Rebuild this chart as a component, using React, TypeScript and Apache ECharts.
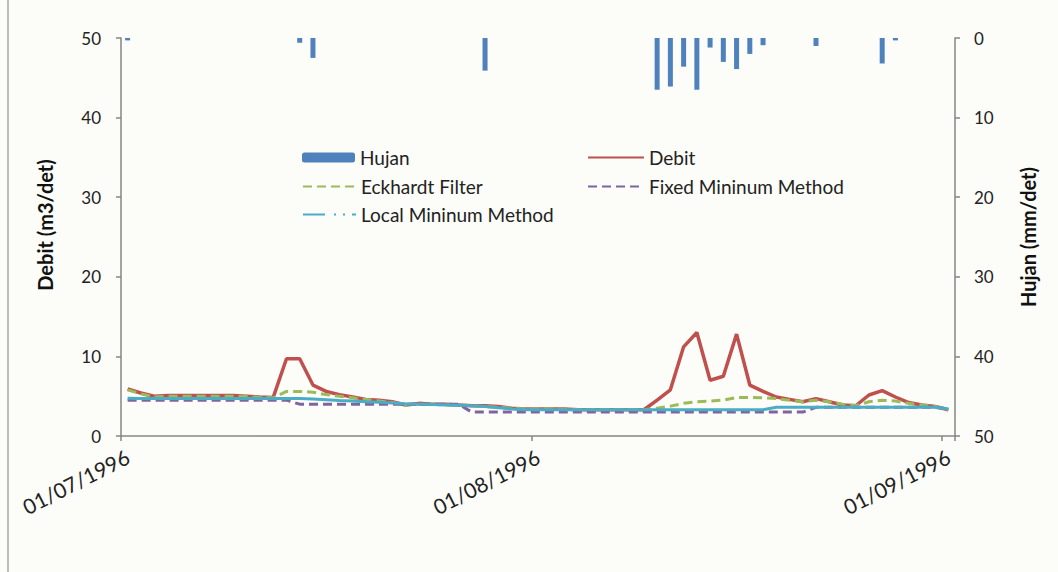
import React, { useEffect, useRef } from "react";
import * as echarts from "echarts";

// Categories: daily dates from 01/07/1996 to 01/09/1996
const dates: string[] = (() => {
  const out: string[] = [];
  const months = [
    { m: "07", days: 31 },
    { m: "08", days: 31 },
    { m: "09", days: 1 },
  ];
  for (const mo of months) {
    for (let d = 1; d <= mo.days; d++) {
      out.push(`${d < 10 ? "0" + d : d}/${mo.m}/1996`);
    }
  }
  return out;
})();

const labelIndexes = [0, 31, 62];

const hujan = [
  0.3, 0, 0, 0, 0, 0, 0, 0, 0, 0, 0, 0, 0, 0.6, 2.5, 0, 0, 0, 0, 0, 0, 0, 0, 0, 0, 0, 0, 4.1, 0, 0, 0,
  0, 0, 0, 0, 0, 0, 0, 0, 0, 6.5, 6.1, 3.6, 6.5, 1.2, 3.0, 3.9, 2.0, 0.9, 0, 0, 0, 1.0, 0, 0, 0, 0, 3.2, 0.3, 0, 0, 0,
  0,
];

const debit = [
  5.9, 5.4, 5.0, 5.1, 5.1, 5.1, 5.1, 5.1, 5.1, 5.0, 4.9, 4.85, 9.7, 9.7, 6.4, 5.6, 5.2, 4.9, 4.6, 4.5, 4.3, 3.9, 4.1, 4.0, 4.0, 3.9, 3.8, 3.8, 3.7, 3.5, 3.4,
  3.4, 3.4, 3.4, 3.3, 3.3, 3.3, 3.3, 3.3, 3.3, 4.5, 5.8, 11.2, 13.0, 7.0, 7.5, 12.8, 6.4, 5.6, 4.9, 4.6, 4.3, 4.7, 4.3, 3.9, 3.8, 5.15, 5.7, 4.9, 4.2, 3.9, 3.7,
  3.3,
];

const eckhardt = [
  5.8, 5.3, 4.9, 5.0, 5.0, 5.0, 5.0, 5.0, 5.0, 4.95, 4.85, 4.8, 5.6, 5.6, 5.5, 5.2, 5.0, 4.8, 4.6, 4.4, 4.2, 3.9, 4.0, 4.0, 3.9, 3.9, 3.8, 3.7, 3.6, 3.5, 3.4,
  3.4, 3.4, 3.35, 3.3, 3.3, 3.3, 3.3, 3.3, 3.3, 3.5, 3.75, 4.1, 4.3, 4.4, 4.5, 4.85, 4.85, 4.8, 4.7, 4.5, 4.3, 4.5, 4.3, 4.0, 3.8, 4.3, 4.5, 4.4, 4.1, 3.9, 3.7,
  3.3,
];

const fixedMin = [
  4.5, 4.5, 4.5, 4.5, 4.5, 4.5, 4.5, 4.5, 4.5, 4.5, 4.5, 4.5, 4.5, 4.0, 4.0, 4.0, 4.0, 4.0, 4.0, 4.0, 4.0, 4.0, 4.0, 4.0, 4.0, 4.0, 3.0, 3.0, 3.0, 3.0, 3.0,
  3.0, 3.0, 3.0, 3.0, 3.0, 3.0, 3.0, 3.0, 3.0, 3.0, 3.0, 3.0, 3.0, 3.0, 3.0, 3.0, 3.0, 3.0, 3.0, 3.0, 3.0, 3.6, 3.6, 3.6, 3.6, 3.6, 3.6, 3.6, 3.6, 3.6, 3.6,
  3.4,
];

const localMin = [
  4.75, 4.7, 4.7, 4.7, 4.7, 4.7, 4.7, 4.7, 4.7, 4.7, 4.7, 4.7, 4.7, 4.7, 4.65, 4.55, 4.45, 4.4, 4.3, 4.25, 4.15, 4.05, 4.0, 3.95, 3.9, 3.85, 3.8, 3.7, 3.55, 3.4, 3.3,
  3.3, 3.3, 3.3, 3.3, 3.3, 3.3, 3.3, 3.3, 3.3, 3.3, 3.3, 3.3, 3.3, 3.3, 3.3, 3.3, 3.3, 3.3, 3.6, 3.6, 3.6, 3.6, 3.6, 3.6, 3.6, 3.6, 3.6, 3.6, 3.6, 3.6, 3.6,
  3.4,
];

const FONT = "Lato";
const AXIS_GRAY = "#868686";
const TEXT = "#222222";

export default function App() {
  const ref = useRef<HTMLDivElement>(null);

  useEffect(() => {
    if (!ref.current) return;
    const chart = echarts.init(ref.current, undefined, { renderer: "svg" });
    const showIdx = (i: number) => labelIndexes.indexOf(i) >= 0;
    const legendText = { fontFamily: FONT, fontSize: 19, color: TEXT };
    const hideSym = { opacity: 0, color: "rgba(0,0,0,0)", borderWidth: 0 };
    const legendBase = { padding: 0, itemGap: 0, textStyle: legendText };
    const option: any = {
      animation: false,
      backgroundColor: "#fcfcf8",
      textStyle: { fontFamily: FONT },
      grid: { left: 121, right: 103, top: 38, bottom: 136, containLabel: false },
      legend: [
        { ...legendBase, left: 302, top: 148, itemWidth: 53, itemHeight: 10, data: ["Hujan"] },
        { ...legendBase, left: 587, top: 148, itemWidth: 56, itemHeight: 14, data: [{ name: "Debit", itemStyle: hideSym }] },
        { ...legendBase, left: 302, top: 177, itemWidth: 53, itemHeight: 14, data: [{ name: "Eckhardt Filter", itemStyle: hideSym }] },
        { ...legendBase, left: 587, top: 177, itemWidth: 56, itemHeight: 14, data: [{ name: "Fixed Mininum Method", itemStyle: hideSym }] },
        {
          ...legendBase,
          left: 302,
          top: 205,
          itemWidth: 53,
          itemHeight: 14,
          data: [{ name: "Local Mininum Method", itemStyle: hideSym, lineStyle: { type: [22, 9, 2, 7, 2, 7] } }],
        },
      ],
      xAxis: {
        type: "category",
        data: dates,
        boundaryGap: true,
        axisLine: { show: true, lineStyle: { color: AXIS_GRAY, width: 1.5 } },
        axisTick: { show: true, interval: (i: number) => showIdx(i), length: 5, lineStyle: { color: AXIS_GRAY, width: 1.5 } },
        axisLabel: {
          interval: (i: number) => showIdx(i),
          rotate: 27,
          margin: 19,
          fontFamily: FONT,
          fontSize: 21,
          color: TEXT,
        },
        splitLine: { show: false },
      },
      yAxis: [
        {
          type: "value",
          min: 0,
          max: 50,
          interval: 10,
          name: "Debit (m3/det)",
          nameLocation: "middle",
          nameRotate: 90,
          nameGap: 66,
          nameTextStyle: { fontFamily: FONT, fontSize: 20, fontWeight: "bold", color: "#111", padding: [0, 0, 0, 24] },
          axisLine: { show: true, lineStyle: { color: AXIS_GRAY, width: 1.5 } },
          axisTick: { show: true, length: 5, lineStyle: { color: AXIS_GRAY, width: 1.5 } },
          axisLabel: { fontFamily: FONT, fontSize: 17, color: TEXT, margin: 20 },
          splitLine: { show: false },
        },
        {
          type: "value",
          min: 0,
          max: 50,
          interval: 10,
          inverse: true,
          position: "right",
          name: "Hujan (mm/det)",
          nameLocation: "middle",
          nameRotate: 90,
          nameGap: 63,
          nameTextStyle: { fontFamily: FONT, fontSize: 20, fontWeight: "bold", color: "#111" },
          axisLine: { show: true, lineStyle: { color: AXIS_GRAY, width: 1.5 } },
          axisTick: { show: true, length: 5, lineStyle: { color: AXIS_GRAY, width: 1.5 } },
          axisLabel: { fontFamily: FONT, fontSize: 17, color: TEXT, margin: 19 },
          splitLine: { show: false },
        },
      ],
      graphic: [
        {
          type: "line",
          shape: { x1: 8, y1: 0, x2: 8, y2: 572 },
          style: { stroke: "#a8a8a8", lineWidth: 1.5 },
          silent: true,
        },
      ],
      series: [
        {
          name: "Hujan",
          type: "bar",
          yAxisIndex: 1,
          data: hujan,
          barWidth: 5,
          itemStyle: { color: "#4f81bd" },
        },
        {
          name: "Debit",
          type: "line",
          data: debit,
          symbol: "none",
          lineStyle: { color: "#c0504d", width: 3.5 },
          itemStyle: { color: "#c0504d" },
        },
        {
          name: "Eckhardt Filter",
          type: "line",
          data: eckhardt,
          symbol: "none",
          lineStyle: { color: "#9bbb59", width: 3, type: [9, 5] },
          itemStyle: { color: "#9bbb59" },
        },
        {
          name: "Fixed Mininum Method",
          type: "line",
          data: fixedMin,
          symbol: "none",
          lineStyle: { color: "#8064a2", width: 3, type: [9, 5] },
          itemStyle: { color: "#8064a2" },
        },
        {
          name: "Local Mininum Method",
          type: "line",
          data: localMin,
          symbol: "none",
          lineStyle: { color: "#4bacc6", width: 3 },
          itemStyle: { color: "#4bacc6" },
        },
      ],
    };
    chart.setOption(option);
    return () => chart.dispose();
  }, []);

  return (
    <div
      ref={ref}
      style={{ position: "absolute", left: 0, top: 0, width: 1058, height: 572 }}
    />
  );
}
